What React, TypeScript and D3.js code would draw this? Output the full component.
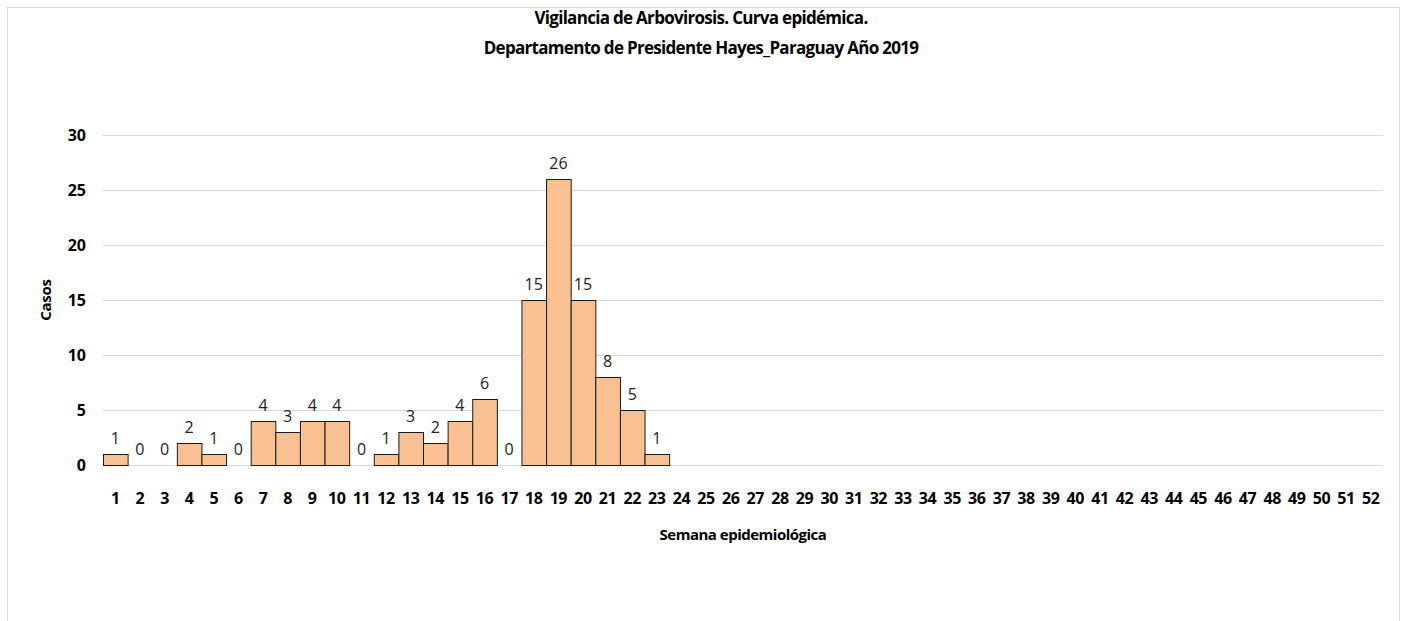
import React from "react";
import * as d3 from "d3";

const titleLines = [
  "Vigilancia de Arbovirosis. Curva epidémica.",
  "Departamento de Presidente Hayes_Paraguay Año 2019",
];
const weeks: number[] = d3.range(1, 53);
const cases: (number | null)[] = [
  1, 0, 0, 2, 1, 0, 4, 3, 4, 4, 0, 1, 3, 2, 4, 6, 0, 15, 26, 15, 8, 5, 1,
];
const yTicks = [0, 5, 10, 15, 20, 25, 30];
const xTitle = "Semana epidemiológica";
const yTitle = "Casos";

const W = 1402;
const H = 621;
const plot = { left: 103, right: 1383, top: 135, bottom: 465 };
const font = "'Open Sans', 'Noto Sans', sans-serif";

export default function App() {
  const x = d3
    .scaleBand<number>()
    .domain(weeks)
    .range([plot.left, plot.right])
    .paddingInner(0)
    .paddingOuter(0);
  const y = d3.scaleLinear().domain([0, 30]).range([plot.bottom, plot.top]);

  return (
    <svg
      width={W}
      height={H}
      style={{ position: "absolute", left: 0, top: 0, background: "#fff" }}
    >
      <rect x={7.5} y={7.5} width={1392} height={H + 20} fill="#fff" stroke="#d9d9d9" strokeWidth={1} />
      {titleLines.map((t, i) => (
        <text
          key={i}
          x={701}
          y={24 + i * 30}
          textAnchor="middle"
          fontFamily={font}
          fontWeight={700}
          fontSize={17}
          letterSpacing={-0.7}
          fill="#000"
        >
          {t}
        </text>
      ))}
      {yTicks.map((v) => (
        <g key={v}>
          <line x1={plot.left} x2={plot.right} y1={y(v) + 0.5} y2={y(v) + 0.5} stroke="#d9d9d9" strokeWidth={1} />
          <text
            x={86}
            y={y(v)}
            dy="0.36em"
            textAnchor="end"
            fontFamily={font}
            fontWeight={700}
            fontSize={16}
            fill="#000"
          >
            {v}
          </text>
        </g>
      ))}
      {cases.map((v, i) =>
        v === null || v === 0 ? null : (
          <rect
            key={i}
            x={x(weeks[i])! + 0.5}
            y={y(v) + 0.5}
            width={x.bandwidth()}
            height={y(0) - y(v)}
            fill="#F9C191"
            stroke="#1a1a1a"
            strokeWidth={1}
          />
        )
      )}
      {cases.map((v, i) =>
        v === null ? null : (
          <text
            key={"l" + i}
            x={x(weeks[i])! + x.bandwidth() / 2}
            y={y(v) - 10}
            textAnchor="middle"
            fontFamily={font}
            fontSize={16}
            fill="#222"
          >
            {v}
          </text>
        )
      )}
      {weeks.map((w) => (
        <text
          key={"x" + w}
          x={x(w)! + x.bandwidth() / 2}
          y={498}
          dy="0.36em"
          textAnchor="middle"
          fontFamily={font}
          fontWeight={700}
          fontSize={16}
          letterSpacing={-0.4}
          fill="#000"
        >
          {w}
        </text>
      ))}
      <text
        x={(plot.left + plot.right) / 2}
        y={535}
        dy="0.36em"
        textAnchor="middle"
        fontFamily={font}
        fontWeight={700}
        fontSize={15}
        letterSpacing={-0.5}
        fill="#000"
      >
        {xTitle}
      </text>
      <text
        transform={`translate(46,300) rotate(-90)`}
        textAnchor="middle"
        dy="0.36em"
        fontFamily={font}
        fontWeight={700}
        fontSize={15}
        letterSpacing={-0.3}
        fill="#000"
      >
        {yTitle}
      </text>
    </svg>
  );
}
